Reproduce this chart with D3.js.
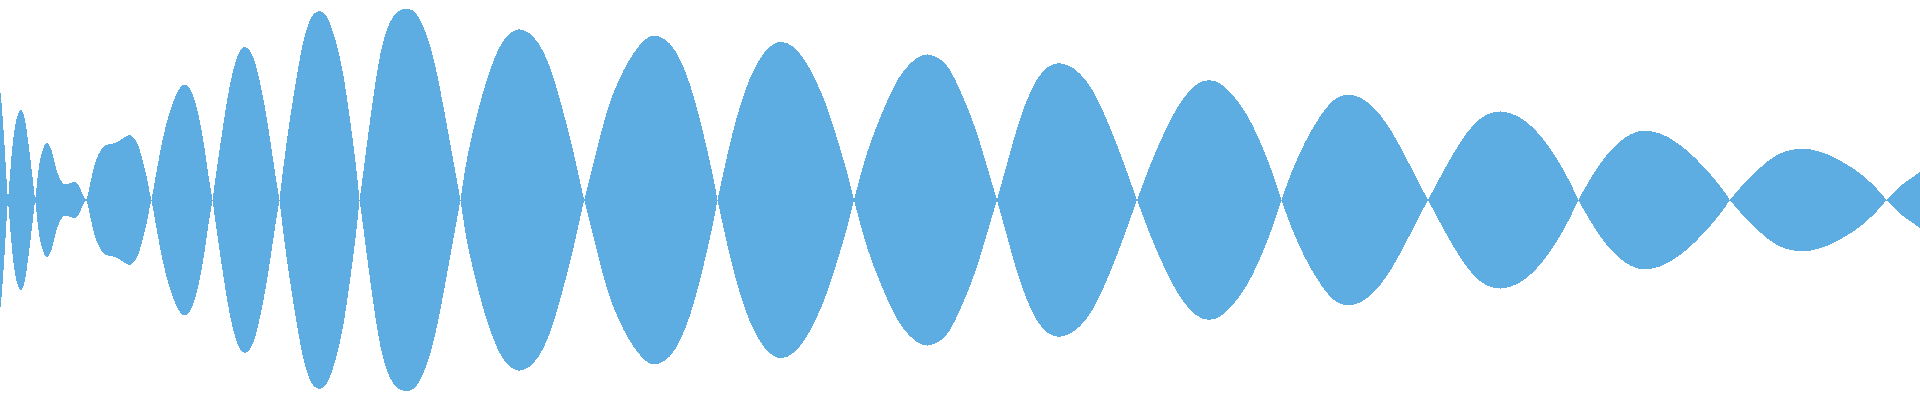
<!DOCTYPE html>
<html>
<head>
<meta charset="utf-8">
<script src="https://cdn.jsdelivr.net/npm/d3@7"></script>
<style>
  html, body { margin: 0; padding: 0; background: #fff; overflow: hidden; }
</style>
</head>
<body>
<div id="chart"></div>
<script>
// envelope of the signal (a zero ends a lobe)
const sampleTimes = [
  0, 1, 2, 3, 4, 5, 6, 7, 8,
  10, 13, 17, 21, 25, 28, 32, 35,
  36, 38, 40, 42, 45, 48, 52, 55, 58, 62, 65, 70, 76, 80, 83, 86,
  88, 90, 92, 95, 98, 102, 105, 110, 117, 123, 130, 133, 137, 140, 143, 147, 149, 151.5,
  157, 163, 170, 177, 185, 193, 200, 205, 209, 212.5,
  217, 223, 230, 237, 244, 252, 258, 265, 270, 275, 279.5,
  283.3, 288.3, 293.3, 298.3, 303.3, 308.3, 313.3, 320, 326.7, 333.3, 338.3, 343.3, 348.3, 353.3, 357.3, 359.5,
  363.3, 368.3, 373.3, 378.3, 383.3, 390, 398.3, 408.3, 416.7, 426.7, 435, 441.7, 448.3, 455, 460.5,
  466.7, 475, 483.3, 493.3, 503.3, 518.3, 533.3, 543.3, 553.3, 563.3, 571.7, 580, 584.3,
  590, 596.7, 605, 613.3, 623.3, 635, 646.7, 656.7, 670, 680, 690, 698.3, 706.7, 713.3, 717.5,
  723.3, 730, 736.7, 745, 753.3, 763.3, 778.3, 793.3, 806.7, 816.7, 826.7, 836.7, 846.7, 854,
  860, 866.7, 875, 883.3, 893.3, 903.3, 916.7, 927.3, 940, 950, 960, 970, 980, 988.3, 997,
  1003.3, 1010, 1018.3, 1026.7, 1036.7, 1048.3, 1060, 1073.3, 1086.7, 1098.3, 1110, 1121.7, 1131.7, 1137,
  1143.3, 1151.7, 1161.7, 1171.7, 1183.3, 1196.7, 1208.3, 1220, 1233.3, 1246.7, 1258.3, 1270, 1281.5,
  1287.3, 1295.6, 1305.9, 1316.2, 1328.5, 1338.8, 1349.1, 1361.4, 1373.8, 1386.1, 1398.5, 1410.8, 1421.1, 1428,
  1437.6, 1447.8, 1460.2, 1472.5, 1484.9, 1501.3, 1517.8, 1534.3, 1546.6, 1559, 1569.2, 1578.3,
  1587.8, 1600.1, 1612.4, 1624.8, 1637.1, 1645.4, 1661.8, 1678.2, 1694.8, 1711.2, 1723.6, 1729.7,
  1744.1, 1760.6, 1777, 1797.6, 1810, 1826.4, 1842.8, 1859.4, 1875.8, 1886.5,
  1900.5, 1913, 1920
];
const amplitudes = [
  112, 103, 91, 77, 63, 47, 30, 12, 0,
  25, 63, 85, 93, 83, 60, 28, 0,
  6, 28, 40, 48, 57, 58, 50, 35, 25, 17, 15, 17, 19, 13, 4, 0,
  5, 15, 25, 37, 45, 52, 55, 56, 57, 62, 66, 63, 58, 50, 38, 23, 10, 0,
  31, 64, 90, 109, 119, 108, 80, 50, 20, 0,
  33, 74, 118, 145, 156, 148, 128, 93, 62, 27, 0,
  33, 70, 103, 133, 160, 177, 187, 190, 186, 168, 150, 127, 93, 57, 23, 0,
  27, 67, 103, 137, 160, 180, 190, 192, 188, 167, 137, 103, 67, 30, 0,
  43, 77, 110, 140, 162, 174, 165, 150, 125, 88, 57, 18, 0,
  23, 50, 83, 108, 130, 150, 163, 166, 158, 142, 117, 87, 53, 23, 0,
  27, 57, 83, 110, 130, 148, 161, 155, 138, 118, 95, 63, 30, 0,
  23, 47, 70, 90, 113, 130, 143, 147, 142, 132, 110, 87, 58, 29, 0,
  23, 47, 77, 100, 122, 135, 138, 133, 120, 100, 73, 43, 15, 0,
  17, 39, 62, 83, 103, 117, 121, 118, 105, 87, 63, 35, 0,
  17, 38, 60, 78, 96, 104, 106, 103, 93, 78, 57, 33, 13, 0,
  18, 37, 58, 75, 86, 90, 85, 72, 57, 38, 20, 0,
  17, 37, 52, 63, 69, 70, 67, 57, 43, 25, 10, 0,
  17, 33, 47, 52, 51, 47, 38, 28, 13, 0,
  15, 23, 28
];

const width = 1920;
const height = 400;
const fillColor = "#5dade2";

const svg = d3
  .select("#chart")
  .append("svg")
  .attr("width", width)
  .attr("height", height)
  .style("display", "block");

const x = d3.scaleLinear().domain([0, 1920]).range([0, width]);
const y = d3.scaleLinear().domain([-200, 200]).range([height, 0]);

const points = sampleTimes.map((t, i) => ({ t: t, a: amplitudes[i] }));

// cut the series at every zero so each lobe keeps its sharp pinch
const lobes = [];
let current = [];
points.forEach((p) => {
  current.push(p);
  if (p.a === 0 && current.length > 1) {
    lobes.push(current);
    current = [p];
  }
});
if (current.length > 1) lobes.push(current);

const area = d3
  .area()
  .x((d) => x(d.t))
  .y0((d) => y(-d.a))
  .y1((d) => y(d.a))
  .curve(d3.curveBasis);

svg
  .selectAll("path.lobe")
  .data(lobes)
  .join("path")
  .attr("class", "lobe")
  .attr("d", area)
  .attr("fill", fillColor)
  .attr("shape-rendering", "crispEdges");

// thin centre line where the lobes touch
svg
  .append("line")
  .attr("x1", x(0))
  .attr("x2", x(1920))
  .attr("y1", y(0))
  .attr("y2", y(0))
  .attr("stroke", fillColor)
  .attr("stroke-width", 1)
  .attr("shape-rendering", "crispEdges");
</script>
</body>
</html>
